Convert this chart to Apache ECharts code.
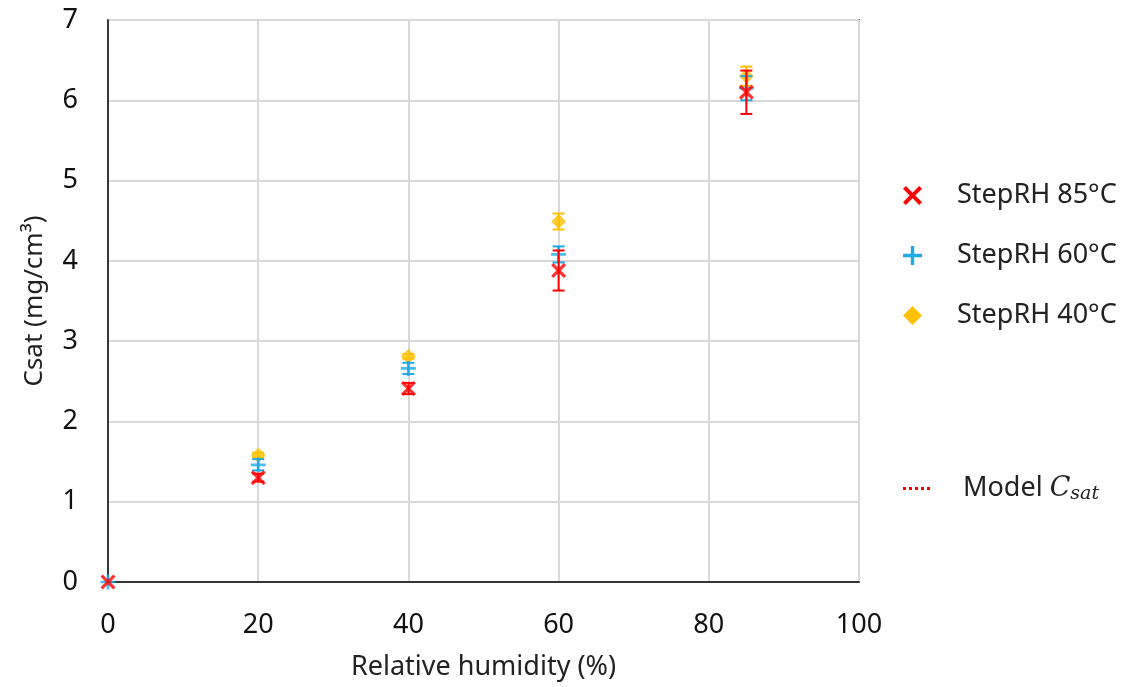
<!DOCTYPE html>
<html>
<head>
<meta charset="utf-8">
<script src="https://cdn.jsdelivr.net/npm/echarts@6/dist/echarts.min.js"></script>
<style>
    html, body { margin: 0; padding: 0; background: #fff; }
    #chart { width: 1128px; height: 687px; }
</style>
</head>
<body>
<div id="chart"></div>
<script>
// 数据
const rhValues = [0, 20, 40, 60, 85];
const rhYellow = [20, 40, 60, 85];

const csat85 = [0, 1.30, 2.41, 3.88, 6.10];
const err85 = [0, 0.05, 0.07, 0.25, 0.27];

const csat60 = [0, 1.46, 2.66, 4.08, 6.15];
const err60 = [0, 0.07, 0.07, 0.10, 0.15];

const csat40 = [1.58, 2.81, 4.49, 6.30];
const err40 = [0.03, 0.03, 0.10, 0.12];

const xTicks = [0, 20, 40, 60, 80, 100];
const yTicks = [0, 1, 2, 3, 4, 5, 6, 7];

const RED = "#FF0000";
const BLUE = "#1EAAE7";
const YELLOW = "#FFC000";

const FONT = "'Noto Sans', 'Open Sans', sans-serif";

// 符号：X、+ 和点线
const SYM_X = "path://M1.5,0L5,3.5L8.5,0L10,1.5L6.5,5L10,8.5L8.5,10L5,6.5L1.5,10L0,8.5L3.5,5L0,1.5Z";
const SYM_PLUS = "path://M4.1,0H5.9V4.1H10V5.9H5.9V10H4.1V5.9H0V4.1H4.1Z";
const SYM_DOTS = "path://M0,0H3V3H0ZM6,0H9V3H6ZM12,0H15V3H12ZM18,0H21V3H18ZM24,0H27V3H24Z";

function pairs(xs, ys) {
    return xs.map((x, i) => [x, ys[i]]);
}

function errData(xs, ys, es) {
    return xs.map((x, i) => [x, ys[i], es[i]]);
}

// 误差线
function errorBars(name, color, data, z) {
    return {
        name: name,
        type: "custom",
        z: z,
        silent: true,
        itemStyle: { color: color },
        data: data,
        renderItem: (params, api) => {
            const x = api.value(0);
            const y = api.value(1);
            const e = api.value(2);
            if (!e) return null;
            const top = api.coord([x, y + e]);
            const bot = api.coord([x, y - e]);
            const half = 6;
            const style = { stroke: color, lineWidth: 2 };
            return {
                type: "group",
                children: [
                    { type: "line", shape: { x1: top[0], y1: top[1], x2: bot[0], y2: bot[1] }, style: style },
                    { type: "line", shape: { x1: top[0] - half, y1: top[1], x2: top[0] + half, y2: top[1] }, style: style },
                    { type: "line", shape: { x1: bot[0] - half, y1: bot[1], x2: bot[0] + half, y2: bot[1] }, style: style },
                ],
            };
        },
    };
}

const chart = echarts.init(document.getElementById("chart"));

chart.setOption({
    animation: false,
    textStyle: { fontFamily: FONT },
    grid: {
        left: 108, right: 269, top: 20, bottom: 105,
        show: true, borderColor: "#000", borderWidth: 1.5,
    },
    legend: [
        {
            orient: "vertical",
            left: 898, top: 177,
            itemGap: 33,
            itemWidth: 19, itemHeight: 19,
            textStyle: { fontSize: 27, color: "#222", fontFamily: FONT, padding: [0, 0, 0, 30] },
            data: [
                { name: "StepRH 85°C", icon: SYM_X, itemStyle: { color: RED } },
                { name: "StepRH 60°C", icon: SYM_PLUS, itemStyle: { color: BLUE } },
                { name: "StepRH 40°C", icon: "diamond", itemStyle: { color: YELLOW } },
            ],
        },
        {
            orient: "vertical",
            left: 898, top: 470,
            itemWidth: 27, itemHeight: 4,
            textStyle: {
                fontSize: 27, color: "#222", fontFamily: FONT, padding: [0, 0, 0, 28],
                rich: {
                    c: { fontSize: 27, fontStyle: "italic", fontFamily: "'DejaVu Serif', serif", color: "#222" },
                    s: { fontSize: 19, fontStyle: "italic", fontFamily: "'DejaVu Serif', serif", color: "#222", padding: [12, 0, 0, 0] },
                },
            },
            formatter: () => "Model {c|C}{s|sat}",
            data: [{ name: "Model Csat", icon: SYM_DOTS, itemStyle: { color: RED } }],
        },
    ],
    xAxis: {
        type: "value",
        min: xTicks[0], max: xTicks[xTicks.length - 1], interval: 20,
        name: "Relative humidity (%)",
        nameLocation: "middle", nameGap: 72,
        nameTextStyle: { fontSize: 27, color: "#222", fontFamily: FONT },
        axisLine: { lineStyle: { color: "#000", width: 1.5 } },
        axisTick: { show: false },
        axisLabel: { fontSize: 27, color: "#111", margin: 30, fontFamily: FONT },
        splitLine: { show: true, lineStyle: { color: "#D9D9D9", width: 2 } },
    },
    yAxis: {
        type: "value",
        min: yTicks[0], max: yTicks[yTicks.length - 1], interval: 1,
        name: "Csat (mg/cm³)",
        nameLocation: "middle", nameGap: 60,
        nameTextStyle: { fontSize: 26, color: "#222", fontFamily: FONT },
        axisLine: { lineStyle: { color: "#000", width: 1.5 } },
        axisTick: { show: false },
        axisLabel: { fontSize: 27, color: "#111", margin: 30, fontFamily: FONT },
        splitLine: { show: true, lineStyle: { color: "#D9D9D9", width: 2 } },
    },
    series: [
        errorBars("StepRH 40°C", YELLOW, errData(rhYellow, csat40, err40), 2),
        {
            name: "StepRH 40°C",
            type: "scatter",
            z: 3,
            symbol: "diamond",
            symbolSize: 15,
            itemStyle: { color: YELLOW },
            data: pairs(rhYellow, csat40),
        },
        errorBars("StepRH 60°C", BLUE, errData(rhValues, csat60, err60), 4),
        {
            name: "StepRH 60°C",
            type: "scatter",
            z: 5,
            symbol: SYM_PLUS,
            symbolSize: 15,
            itemStyle: { color: BLUE },
            data: pairs(rhValues, csat60),
        },
        errorBars("StepRH 85°C", RED, errData(rhValues, csat85, err85), 6),
        {
            name: "StepRH 85°C",
            type: "scatter",
            z: 7,
            symbol: SYM_X,
            symbolSize: 15,
            itemStyle: { color: RED },
            data: pairs(rhValues, csat85),
        },
        {
            name: "Model Csat",
            type: "line",
            symbol: "none",
            lineStyle: { color: RED, type: "dotted", width: 3 },
            itemStyle: { color: RED },
            data: [],
        },
    ],
});
</script>
</body>
</html>
